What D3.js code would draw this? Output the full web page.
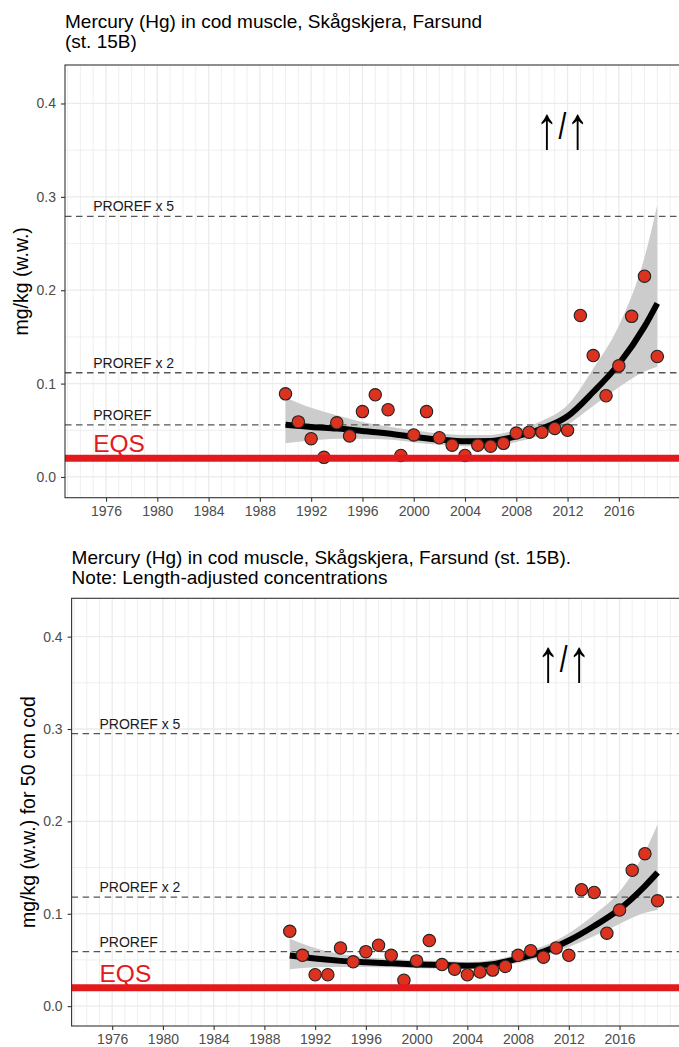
<!DOCTYPE html>
<html>
<head>
<meta charset="utf-8">
<script src="https://cdnjs.cloudflare.com/ajax/libs/d3/7.8.5/d3.min.js"></script>
<style>
body { margin: 0; background: #fff; }
svg { display: block; font-family: 'Liberation Sans', Arial, sans-serif; }
</style>
</head>
<body>
<div id="chart"></div>
<script>
// measured yearly concentrations (mg/kg w.w.)
var years = [1990, 1991, 1992, 1993, 1994, 1995, 1996, 1997, 1998, 1999,
    2000, 2001, 2002, 2003, 2004, 2005, 2006, 2007, 2008, 2009,
    2010, 2011, 2012, 2013, 2014, 2015, 2016, 2017, 2018, 2019];
var hgRaw = [0.089, 0.059, 0.041, 0.021, 0.058, 0.044, 0.070, 0.088, 0.072, 0.023,
    0.045, 0.070, 0.042, 0.034, 0.023, 0.034, 0.033, 0.036, 0.047, 0.048,
    0.048, 0.052, 0.050, 0.173, 0.130, 0.087, 0.119, 0.172, 0.215, 0.129];
var hgAdjusted = [0.081, 0.055, 0.034, 0.034, 0.063, 0.048, 0.059, 0.066, 0.055, 0.028,
    0.049, 0.071, 0.045, 0.040, 0.034, 0.037, 0.039, 0.043, 0.055, 0.060,
    0.053, 0.063, 0.055, 0.126, 0.123, 0.079, 0.104, 0.147, 0.165, 0.114];

// smoothed trend with confidence band
var fitYears = [1990, 1992, 1994, 1996, 1998, 2000, 2002, 2004, 2006, 2008, 2010, 2012, 2014, 2016, 2018, 2019];
var fitRaw = [0.056, 0.0536, 0.0518, 0.0493, 0.0465, 0.0429, 0.040, 0.0382, 0.0386, 0.0436, 0.0518, 0.065, 0.091, 0.121, 0.161, 0.186];
var loRaw = [0.036, 0.039, 0.041, 0.041, 0.040, 0.037, 0.0345, 0.033, 0.033, 0.0375, 0.045, 0.056, 0.076, 0.096, 0.113, 0.118];
var hiRaw = [0.085, 0.074, 0.066, 0.059, 0.054, 0.050, 0.0465, 0.045, 0.045, 0.0505, 0.060, 0.077, 0.116, 0.162, 0.235, 0.291];
var fitAdjusted = [0.0548, 0.0515, 0.049, 0.0475, 0.0463, 0.0452, 0.0445, 0.0438, 0.0455, 0.0515, 0.059, 0.071, 0.0867, 0.105, 0.130, 0.1446];
var loAdjusted = [0.040, 0.042, 0.0425, 0.0425, 0.042, 0.041, 0.0405, 0.040, 0.0415, 0.047, 0.0535, 0.064, 0.076, 0.089, 0.101, 0.104];
var hiAdjusted = [0.073, 0.063, 0.0565, 0.053, 0.051, 0.0495, 0.049, 0.048, 0.050, 0.0565, 0.065, 0.079, 0.099, 0.124, 0.167, 0.197];

// reference levels
var refLabels = ['PROREF', 'PROREF x 2', 'PROREF x 5'];
var refRaw = [0.0558, 0.1116, 0.279];
var refAdjusted = [0.059, 0.118, 0.295];
var eqsLevel = 0.02;

// tick labels
var xTicks = [1976, 1980, 1984, 1988, 1992, 1996, 2000, 2004, 2008, 2012, 2016];
var yTicks = [0, 0.1, 0.2, 0.3, 0.4];

var width = 679;
var height = 1047;
var rightEdge = 685.5;

var svg = d3.select('#chart')
    .append('svg')
    .attr('width', width)
    .attr('height', height);

function drawPanel(p) {
    var x = d3.scaleLinear()
        .domain([1972.8, 2021.2])
        .range([p.left, rightEdge]);
    var y = d3.scaleLinear()
        .domain(p.yDomain)
        .range([p.bottom, p.top]);

    var g = svg.append('g');

    // titles
    g.selectAll('text.title')
        .data(p.title)
        .enter().append('text')
        .attr('class', 'title')
        .attr('x', p.left)
        .attr('y', function (d, i) { return p.titleY + i * 20; })
        .style('font-size', '19px')
        .style('fill', '#000')
        .text(function (d) { return d; });

    // grid
    var grid = g.append('g');
    grid.selectAll('line.v')
        .data(d3.range(1973, 2022))
        .enter().append('line')
        .attr('x1', function (d) { return x(d); })
        .attr('x2', function (d) { return x(d); })
        .attr('y1', p.top)
        .attr('y2', p.bottom)
        .attr('stroke', '#ebebeb')
        .attr('stroke-width', function (d) { return xTicks.indexOf(d) >= 0 ? 1.3 : 0.8; });
    grid.selectAll('line.h')
        .data(d3.range(0, 0.45, 0.05))
        .enter().append('line')
        .attr('x1', p.left)
        .attr('x2', rightEdge)
        .attr('y1', function (d) { return y(d); })
        .attr('y2', function (d) { return y(d); })
        .attr('stroke', '#ebebeb')
        .attr('stroke-width', function (d, i) { return i % 2 === 0 ? 1.3 : 0.8; });

    // confidence band
    var area = d3.area()
        .x(function (d, i) { return x(fitYears[i]); })
        .y0(function (d, i) { return y(p.lo[i]); })
        .y1(function (d, i) { return y(p.hi[i]); })
        .curve(d3.curveMonotoneX);
    g.append('path')
        .attr('d', area(fitYears))
        .attr('fill', '#cccccc');

    // reference lines
    g.selectAll('line.ref')
        .data(p.refs)
        .enter().append('line')
        .attr('x1', p.left)
        .attr('x2', rightEdge)
        .attr('y1', function (d) { return y(d); })
        .attr('y2', function (d) { return y(d); })
        .attr('stroke', '#555')
        .attr('stroke-width', 1.3)
        .attr('stroke-dasharray', '6.5,4.5');
    g.selectAll('text.ref')
        .data(p.refs)
        .enter().append('text')
        .attr('x', x(1975))
        .attr('y', function (d) { return y(d) - 5; })
        .style('font-size', '14px')
        .style('fill', '#1a1a1a')
        .text(function (d, i) { return refLabels[i]; });

    // trend line
    var line = d3.line()
        .x(function (d, i) { return x(fitYears[i]); })
        .y(function (d) { return y(d); })
        .curve(d3.curveMonotoneX);
    g.append('path')
        .attr('d', line(p.fit))
        .attr('fill', 'none')
        .attr('stroke', '#000')
        .attr('stroke-width', 6);

    // points
    g.selectAll('circle')
        .data(p.values)
        .enter().append('circle')
        .attr('cx', function (d, i) { return x(years[i]); })
        .attr('cy', function (d) { return y(d); })
        .attr('r', 6.2)
        .attr('fill', '#dc3220')
        .attr('stroke', '#222')
        .attr('stroke-width', 1.1);

    // EQS
    g.append('line')
        .attr('x1', p.left)
        .attr('x2', rightEdge)
        .attr('y1', y(eqsLevel))
        .attr('y2', y(eqsLevel))
        .attr('stroke', '#e31a1c')
        .attr('stroke-width', 7);
    g.append('text')
        .attr('x', x(1975))
        .attr('y', y(eqsLevel) - 6)
        .style('font-size', '24.5px')
        .style('fill', '#e31a1c')
        .text('EQS');

    // trend arrows (stretched to the tall, thin look of the original)
    var arrows = g.append('text')
        .attr('transform', 'translate(' + x(2011.6) + ',' + y(0.375) + ') scale(1,1.3)')
        .attr('text-anchor', 'middle')
        .attr('dominant-baseline', 'central')
        .style('fill', '#000');
    arrows.append('tspan').style('font-size', '46px').text('\u2191');
    arrows.append('tspan').style('font-size', '28px').text('/');
    arrows.append('tspan').style('font-size', '46px').text('\u2191');

    // axes
    var yAxis = d3.axisLeft(y)
        .tickValues(yTicks)
        .tickFormat(d3.format('.1f'))
        .tickSize(4)
        .tickPadding(5);
    var xAxis = d3.axisBottom(x)
        .tickValues(xTicks)
        .tickFormat(d3.format('d'))
        .tickSize(4)
        .tickPadding(4);

    var ya = g.append('g')
        .attr('transform', 'translate(' + p.left + ',0)')
        .call(yAxis);
    var xa = g.append('g')
        .attr('transform', 'translate(0,' + p.bottom + ')')
        .call(xAxis);
    [ya, xa].forEach(function (a) {
        a.select('.domain').remove();
        a.selectAll('line').attr('stroke', '#333').attr('stroke-width', 1.1);
        a.selectAll('text')
            .style('font-size', '14px')
            .style('font-family', "'Liberation Sans', Arial, sans-serif")
            .attr('fill', '#4d4d4d');
    });

    g.append('text')
        .attr('transform', 'translate(' + p.yTitleX + ',' + ((p.top + p.bottom) / 2) + ') rotate(-90)')
        .attr('text-anchor', 'middle')
        .attr('dominant-baseline', 'central')
        .style('font-size', '19.5px')
        .style('fill', '#000')
        .text(p.yTitle);

    // panel border
    g.append('rect')
        .attr('x', p.left)
        .attr('y', p.top)
        .attr('width', rightEdge - p.left)
        .attr('height', p.bottom - p.top)
        .attr('fill', 'none')
        .attr('stroke', '#333')
        .attr('stroke-width', 1.1);
}

drawPanel({
    left: 65, top: 65, bottom: 497.7,
    titleY: 28,
    yDomain: [-0.0222, 0.4412],
    title: ['Mercury (Hg) in cod muscle, Skågskjera, Farsund', '(st. 15B)'],
    yTitle: 'mg/kg (w.w.)',
    yTitleX: 21,
    values: hgRaw,
    fit: fitRaw, lo: loRaw, hi: hiRaw,
    refs: refRaw
});

drawPanel({
    left: 71.6, top: 598.3, bottom: 1026,
    titleY: 564,
    yDomain: [-0.0215, 0.4415],
    title: ['Mercury (Hg) in cod muscle, Skågskjera, Farsund (st. 15B).', 'Note: Length-adjusted concentrations'],
    yTitle: 'mg/kg (w.w.) for 50 cm cod',
    yTitleX: 27.5,
    values: hgAdjusted,
    fit: fitAdjusted, lo: loAdjusted, hi: hiAdjusted,
    refs: refAdjusted
});
</script>
</body>
</html>
